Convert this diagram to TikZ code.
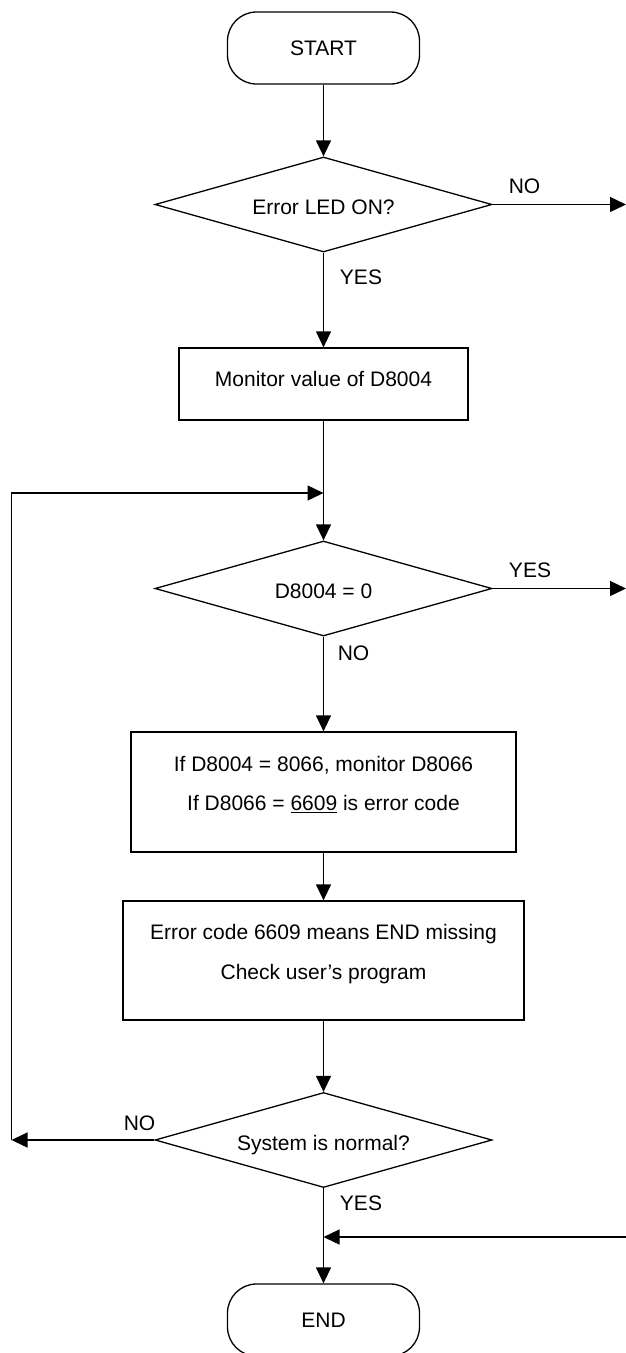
\documentclass[tikz,border=0pt]{standalone}
\usepackage{fontspec}
\setmainfont{Liberation Sans}
\usetikzlibrary{shapes.geometric,arrows.meta}
\newcommand\twolines[3]{\vtop{\baselineskip=#1\halign{\hfil##\hfil\cr #2\cr #3\cr}}}
\begin{document}
\begin{tikzpicture}[x=1pt,y=-1pt,
  every node/.style={font=\fontsize{21}{25}\selectfont},
  arr/.style={line width=1.3pt,-{Triangle[length=16pt,width=15pt]}},
  term/.style={draw,line width=1.3pt,rounded corners=29pt,minimum width=192pt,minimum height=72pt,inner sep=0pt},
  decision/.style={draw,diamond,line width=1.3pt,aspect=3.55,minimum width=337pt,minimum height=95pt,inner sep=0pt,text height=20pt,text depth=0pt},
  procbox/.style={draw,rectangle,line width=1.3pt,inner sep=0pt},
  lab/.style={anchor=base,inner sep=0pt}
]
\useasboundingbox (0,0) rectangle (626,1353);

\node[term] (start) at (323.5,48) {START};
\node[decision] (d1) at (323.5,204.5) {Error LED ON?};
\node[procbox,minimum width=289pt,minimum height=72pt,text height=15pt,text depth=10pt] (b1) at (323.5,384) {Monitor value of D8004};
\node[decision] (d2) at (323.5,588.5) {D8004 = 0};
\node[procbox,minimum width=385pt,minimum height=120pt,text height=15pt,text depth=56pt] (b3) at (323.5,792) {\twolines{39pt}{If D8004 = 8066, monitor D8066}{If D8066 = \underline{6609} is error code}};
\node[procbox,minimum width=401pt,minimum height=119pt,text height=15pt,text depth=57pt] (b4) at (323.5,960.5) {\twolines{40pt}{Error code 6609 means END missing}{Check user’s program}};
\node[decision] (d3) at (323.5,1140) {System is normal?};
\node[term] (endn) at (323.5,1320) {END};

\coordinate (r1) at (626,204.5);
\coordinate (r2) at (626,588.5);
\coordinate (r3) at (626,1237);
\coordinate (m3) at (323.5,1237);
\coordinate (lb) at (11.5,1140);
\coordinate (lt) at (11.5,493);
\coordinate (m1) at (323.5,493);

\draw[arr] (start.south) -- (d1.north);
\draw[arr] (d1.east) -- (r1);
\draw[arr] (d1.south) -- (b1.north);
\draw[arr] (b1.south) -- (d2.north);
\draw[arr] (lb) -- (lt) -- (m1);
\draw[arr] (d2.east) -- (r2);
\draw[arr] (d2.south) -- (b3.north);
\draw[arr] (b3.south) -- (b4.north);
\draw[arr] (b4.south) -- (d3.north);
\draw[arr] (d3.west) -- (lb);
\draw[arr] (d3.south) -- (endn.north);
\draw[arr] (r3) -- (m3);

\node[lab] (l1) at (524.5,193.5) {NO};
\node[lab] (l2) at (361,284.5) {YES};
\node[lab] (l3) at (530,577.5) {YES};
\node[lab] (l4) at (353.5,660.5) {NO};
\node[lab] (l5) at (139.5,1130.5) {NO};
\node[lab] (l6) at (361,1210.5) {YES};
\end{tikzpicture}
\end{document}
